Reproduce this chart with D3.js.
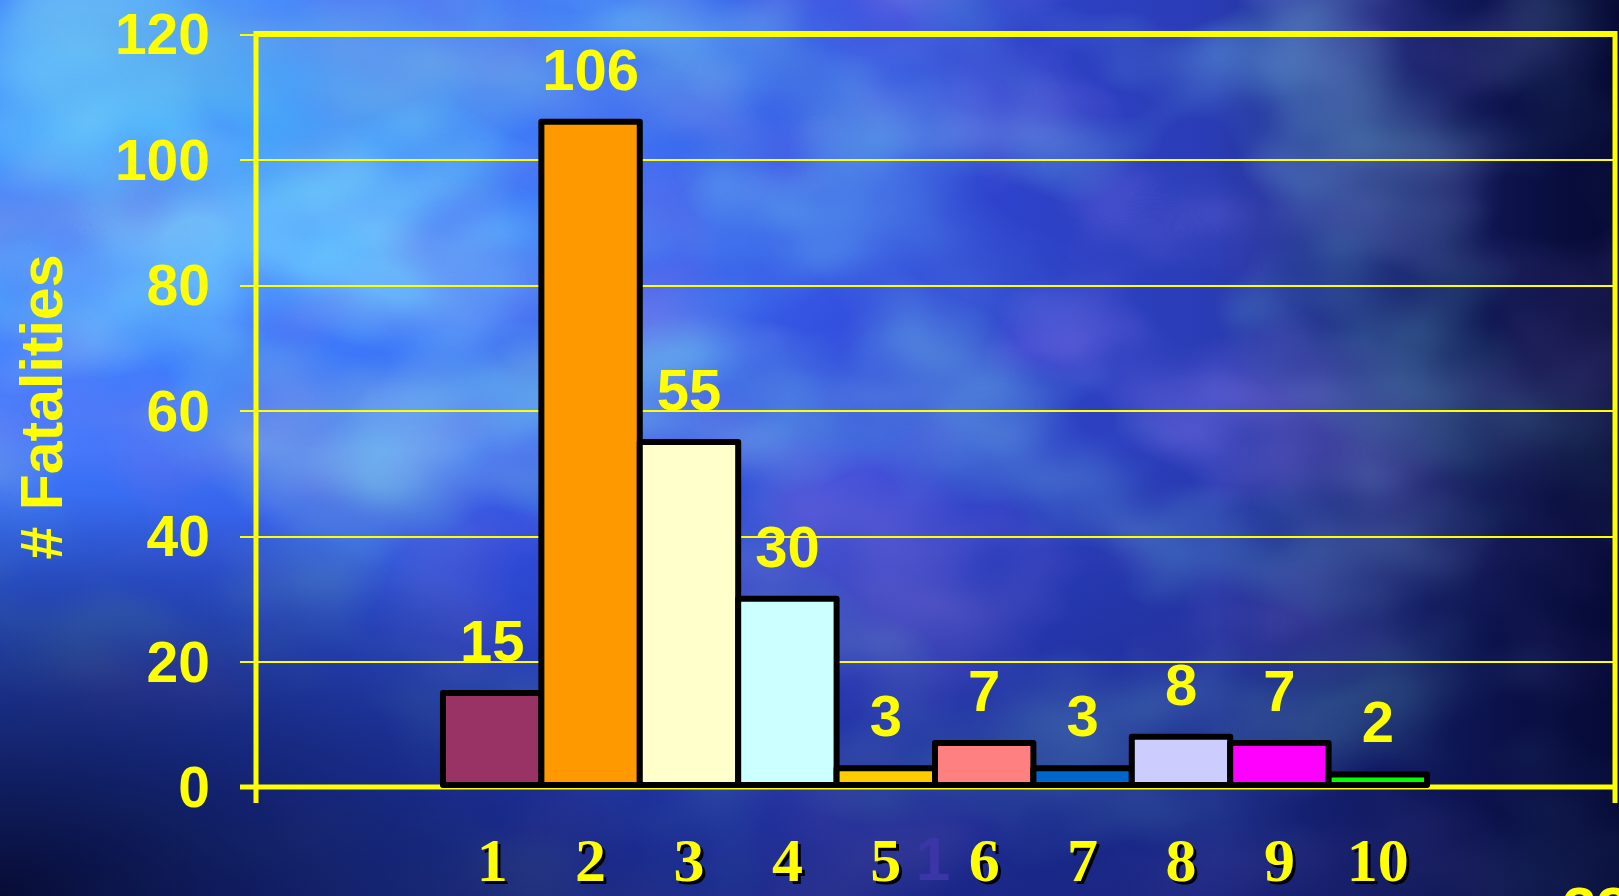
<!DOCTYPE html>
<html><head><meta charset="utf-8">
<script src="https://cdn.jsdelivr.net/npm/d3@7"></script>
<style>html,body{margin:0;padding:0;background:#0b1550;overflow:hidden}svg{display:block}</style>
</head><body>
<svg id="chart" width="1619" height="896"></svg>
<script>
// ---- data ----
const categories = ["1","2","3","4","5","6","7","8","9","10"];
const fatalities = [15,106,55,30,3,7,3,8,7,2];
const yTickValues = [0,20,40,60,80,100,120];
const yTitle = "# Fatalities";

// ---- style ----
const palette = ["#993366","#FF9900","#FFFFCC","#CCFFFF","#FFCC00","#FF8080","#0066CC","#CCCCFF","#FF00FF","#00FF00"];
const W = 1619, H = 896;
const frame = {left:256, right:1614, top:34, bottom:787};
const YEL = "#FFFF00";

const svg = d3.select("#chart");
const defs = svg.append("defs");

function lin(id, x2, y2, stops){
  const g = defs.append("linearGradient").attr("id",id).attr("x1",0).attr("y1",0).attr("x2",x2).attr("y2",y2);
  stops.forEach(([o,c,a])=>g.append("stop").attr("offset",o).attr("stop-color",c).attr("stop-opacity",a==null?1:a));
}
function rad(id, cx, cy, r, stops){
  const g = defs.append("radialGradient").attr("id",id).attr("cx",cx).attr("cy",cy).attr("r",r);
  stops.forEach(([o,c,a])=>g.append("stop").attr("offset",o).attr("stop-color",c).attr("stop-opacity",a==null?1:a));
}
lin("base",1,0,[[0,"#3a70ff"],[0.3,"#3556ee"],[0.55,"#3046d8"],[0.75,"#2a3cb4"],[0.88,"#1d2c86"],[1,"#0a1048"]]);
lin("vdark",0,1,[[0,"#0c1660",0],[0.5,"#0c1660",0],[1,"#0c1660",0.65]]);
rad("glow",0.12,0.15,0.5,[[0,"#40b4ff",0.9],[0.4,"#4494ff",0.6],[1,"#4a98ff",0]]);
rad("darkBL",0,1,0.45,[[0,"#060a30",0.95],[0.5,"#0a1450",0.55],[1,"#0a1450",0]]);
lin("darkR",1,0,[[0,"#050830",0],[0.75,"#050830",0],[1,"#04062a",0.7]]);
rad("cmaskG",0.2,0.25,0.5,[[0,"#fff",1],[0.6,"#fff",0.5],[1,"#fff",0]]);
defs.append("mask").attr("id","cmask").append("rect").attr("width",W).attr("height",H).attr("fill","url(#cmaskG)");

function noise(id, freq, seed, rgb, k, b){
  const f = defs.append("filter").attr("id",id).attr("x",0).attr("y",0).attr("width",W).attr("height",H).attr("filterUnits","userSpaceOnUse");
  f.append("feTurbulence").attr("type","fractalNoise").attr("baseFrequency",freq).attr("numOctaves",3).attr("seed",seed);
  f.append("feColorMatrix").attr("type","matrix").attr("values",`0 0 0 0 ${rgb[0]}  0 0 0 0 ${rgb[1]}  0 0 0 0 ${rgb[2]}  ${k} 0 0 0 ${b}`);
}
noise("teal","0.004 0.006",5,[0.16,0.5,0.78],2.6,-1.15);
noise("violet","0.004 0.006",9,[0.22,0.18,0.8],2.6,-1.15);
noise("cyan","0.004 0.006",11,[0.22,0.8,1],3,-1.3);

const bg = svg.append("g");
const full = (attrs)=>{const r=bg.append("rect").attr("width",W).attr("height",H); Object.entries(attrs).forEach(([k,v])=>r.attr(k,v)); return r;};
full({fill:"url(#base)"});
full({fill:"url(#glow)"});
full({filter:"url(#violet)",opacity:0.6});
full({filter:"url(#teal)",opacity:0.55});
full({filter:"url(#cyan)",mask:"url(#cmask)",opacity:0.6});
full({fill:"url(#vdark)"});
full({fill:"url(#darkBL)"});
full({fill:"url(#darkR)"});

// ---- scales ----
const x = d3.scaleBand().domain(categories).range([frame.left, frame.right]).paddingInner(0).paddingOuter(1.9);
const y = d3.scaleLinear().domain([0,120]).range([frame.bottom, frame.top]);

// gridlines + ticks via axis
const yAxis = d3.axisLeft(y).tickValues(yTickValues).tickSize(frame.right - frame.left + 16).tickFormat("");
const ga = svg.append("g").attr("transform",`translate(${frame.right},0)`).call(yAxis);
ga.select(".domain").remove();
ga.selectAll(".tick line").attr("stroke",YEL).attr("stroke-width",2).attr("shape-rendering","crispEdges");

// frame lines
svg.append("line").attr("x1",frame.left).attr("x2",frame.right+3).attr("y1",frame.top).attr("y2",frame.top).attr("stroke",YEL).attr("stroke-width",6);
svg.append("line").attr("x1",frame.left).attr("x2",frame.left).attr("y1",frame.top-3).attr("y2",frame.bottom+16).attr("stroke",YEL).attr("stroke-width",5);
svg.append("line").attr("x1",frame.right+1).attr("x2",frame.right+1).attr("y1",frame.top-3).attr("y2",frame.bottom+16).attr("stroke",YEL).attr("stroke-width",5);
svg.append("line").attr("x1",frame.left-16).attr("x2",frame.right+3).attr("y1",frame.bottom).attr("y2",frame.bottom).attr("stroke",YEL).attr("stroke-width",5);

// bars
svg.append("g").selectAll("rect").data(fatalities).join("rect")
  .attr("x",(d,i)=>x(categories[i]))
  .attr("y",d=>y(d))
  .attr("width",x.bandwidth())
  .attr("height",d=>y(0)-2-y(d))
  .attr("fill",(d,i)=>palette[i])
  .attr("stroke","#000").attr("stroke-width",6).attr("stroke-linejoin","round");

// value labels
svg.append("g").selectAll("text").data(fatalities).join("text")
  .attr("x",(d,i)=>x(categories[i])+x.bandwidth()/2)
  .attr("y",d=>y(d)-32)
  .attr("text-anchor","middle")
  .attr("font-family","'Liberation Sans', Arial, sans-serif").attr("font-weight","bold").attr("font-size",58)
  .attr("fill",YEL).text(d=>d);

// y tick labels
svg.append("g").selectAll("text").data(yTickValues).join("text")
  .attr("x",210).attr("y",d=>y(d)+20)
  .attr("text-anchor","end")
  .attr("font-family","'Liberation Sans', Arial, sans-serif").attr("font-weight","bold").attr("font-size",57)
  .attr("fill",YEL).text(d=>d);

// x category labels with shadow
const xl = svg.append("g");
[[3,"#000"],[0,YEL]].forEach(([off,col])=>{
  xl.append("g").selectAll("text").data(categories).join("text")
    .attr("x",d=>x(d)+x.bandwidth()/2+off).attr("y",881+off)
    .attr("text-anchor","middle")
    .attr("font-family","'Liberation Serif', 'Times New Roman', serif").attr("font-weight","bold").attr("font-size",62)
    .attr("fill",col).text(d=>d);
});

// y title
svg.append("text").attr("transform","translate(62,407) rotate(-90)")
  .attr("text-anchor","middle")
  .attr("font-family","'Liberation Sans', Arial, sans-serif").attr("font-weight","bold").attr("font-size",59)
  .attr("fill",YEL).text(yTitle);

// faint background glyph and slide number
svg.append("text").attr("x",933).attr("y",880).attr("text-anchor","middle")
  .attr("font-family","'Liberation Sans', Arial, sans-serif").attr("font-weight","bold").attr("font-size",62)
  .attr("fill","#3a36a8").text("1");
svg.append("text").attr("x",1562).attr("y",930)
  .attr("font-family","'Liberation Sans', Arial, sans-serif").attr("font-weight","bold").attr("font-size",62)
  .attr("fill",YEL).text("23");
</script>
</body></html>
